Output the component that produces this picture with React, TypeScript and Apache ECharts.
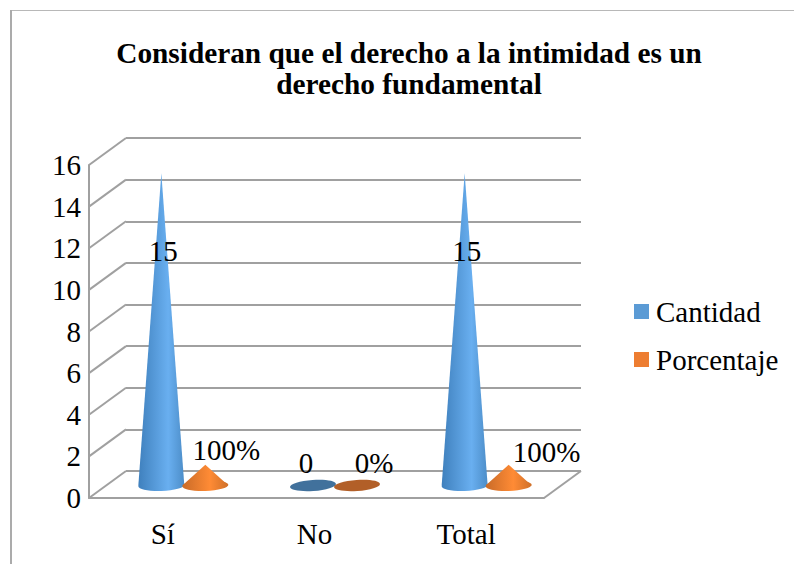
import React, { useEffect, useRef } from "react";
import * as echarts from "echarts";

const categories = ["Sí", "No", "Total"];
const cantidad = [15, 0, 15];
const porcentaje = [1, 0, 1];
const wallTicks = [0, 2, 4, 6, 8, 10, 12, 14, 16];
const titleText = "Consideran que el derecho a la intimidad es un\nderecho fundamental";

const FONT = "'Liberation Serif', 'Times New Roman', serif";
const DEPTH_X = 37;
const DEPTH_Y = 27;
const SIDE = 22;
const RX = 23;
const RY = 5.5;

const blueGrad = () =>
  new echarts.graphic.LinearGradient(0, 0, 1, 0, [
    { offset: 0, color: "#3F80BD" },
    { offset: 0.65, color: "#69AFF0" },
    { offset: 1, color: "#4C8DC8" },
  ]);
const orangeGrad = () =>
  new echarts.graphic.LinearGradient(0, 0, 1, 0, [
    { offset: 0, color: "#C96B28" },
    { offset: 0.6, color: "#FF8B35" },
    { offset: 1, color: "#CF7029" },
  ]);

function makeCone(side: number, grad: () => any, flat: string, labelFor: (v: number, i: number) => [string, number, number]) {
  return (params: any, api: any) => {
    const idx = api.value(0);
    const v = api.value(1);
    const p = api.coord([idx, v]);
    const b = api.coord([idx, 0]);
    const cx = b[0] + DEPTH_X / 2 + side;
    const by = b[1] - DEPTH_Y / 2 + 1;
    const topY = p[1] - DEPTH_Y / 2 + 1;
    const children: any[] = [];
    if (v > 0) {
      children.push({
        type: "ellipse",
        shape: { cx: 0, cy: 0, rx: RX, ry: RY },
        x: cx,
        y: by,
        rotation: 0.03,
        style: { fill: grad() },
      });
      children.push({
        type: "polygon",
        shape: { points: [[cx - RX, by], [cx, topY], [cx + RX, by]] },
        style: { fill: grad() },
      });
    } else {
      children.push({
        type: "ellipse",
        shape: { cx: 0, cy: 0, rx: RX, ry: RY },
        x: cx,
        y: by,
        rotation: 0.07,
        style: { fill: flat },
      });
    }
    const [text, dx, dy] = labelFor(v, idx);
    children.push({
      type: "text",
      x: cx + dx,
      y: v > 1 ? by + (topY - by) * 0.75 : (v > 0 ? topY + dy : by + dy),
      style: { text, fill: "#000", font: `29px ${FONT}`, align: "center", verticalAlign: "middle" },
    });
    return { type: "group", children };
  };
}

const wall = (params: any, api: any) => {
  const v = api.value(1);
  const y = api.coord([0, v])[1];
  const cs = params.coordSys;
  const seg = (x: number) => ({
    type: "line",
    shape: { x1: x, y1: y, x2: x + DEPTH_X, y2: y - DEPTH_Y },
    style: { stroke: "#A0A0A0", lineWidth: 2 },
  });
  const children = [seg(cs.x)];
  if (v === 0) children.push(seg(cs.x + cs.width));
  return { type: "group", children };
};

export default function App() {
  const ref = useRef<HTMLDivElement>(null);
  useEffect(() => {
    const chart = echarts.init(ref.current!, undefined, { renderer: "svg" });
    const gridLine = { show: true, lineStyle: { color: "#A0A0A0", width: 2 } };
    chart.setOption({
      animation: false,
      backgroundColor: "#fff",
      title: {
        text: titleText,
        left: 404,
        top: 32,
        textAlign: "center",
        textStyle: { fontFamily: FONT, fontWeight: "bold", fontSize: 29.3, lineHeight: 31, color: "#000" },
      },
      legend: {
        data: ["Cantidad", "Porcentaje"],
        orient: "vertical",
        left: 629,
        top: 292,
        itemWidth: 15,
        itemHeight: 15,
        itemGap: 19,
        icon: "rect",
        textStyle: { fontFamily: FONT, fontSize: 29, color: "#000", padding: [0, 0, 0, 2] },
      },
      graphic: [
        { type: "line", shape: { x1: 10, y1: 10.5, x2: 794, y2: 10.5 }, style: { stroke: "#B8B8B8", lineWidth: 1 } },
        { type: "line", shape: { x1: 11, y1: 10, x2: 11, y2: 564 }, style: { stroke: "#ABABAB", lineWidth: 2 } },
      ],
      grid: [
        { left: 89, width: 455, top: 165, height: 333 },
        { left: 126, width: 455, top: 138, height: 333 },
      ],
      xAxis: [
        {
          type: "category",
          gridIndex: 0,
          data: categories,
          axisTick: { show: false },
          axisLine: gridLine,
          axisLabel: { fontFamily: FONT, fontSize: 29, color: "#000", margin: 21, padding: [0, 4, 0, 0] },
        },
        { type: "category", gridIndex: 1, data: categories, show: false },
      ],
      yAxis: [
        {
          type: "value",
          gridIndex: 0,
          min: 0,
          max: 16,
          interval: 2,
          axisLine: gridLine,
          axisTick: { show: false },
          splitLine: { show: false },
          axisLabel: { fontFamily: FONT, fontSize: 29, color: "#000", margin: 8 },
        },
        {
          type: "value",
          gridIndex: 1,
          min: 0,
          max: 16,
          interval: 2,
          axisLine: { show: false },
          axisTick: { show: false },
          axisLabel: { show: false },
          splitLine: gridLine,
        },
      ],
      series: [
        {
          type: "custom",
          name: "wall",
          xAxisIndex: 0,
          yAxisIndex: 0,
          silent: true,
          clip: false,
          renderItem: wall,
          data: wallTicks.map((t) => [0, t]),
        },
        {
          type: "custom",
          name: "Cantidad",
          xAxisIndex: 0,
          yAxisIndex: 0,
          clip: false,
          itemStyle: { color: "#5B9BD5" },
          renderItem: makeCone(-SIDE, blueGrad, "#41719C", (v) => [String(v), v > 0 ? 2 : -7, -23]),
          data: cantidad.map((v, i) => [i, v]),
        },
        {
          type: "custom",
          name: "Porcentaje",
          xAxisIndex: 0,
          yAxisIndex: 0,
          clip: false,
          itemStyle: { color: "#ED7D31" },
          renderItem: makeCone(SIDE, orangeGrad, "#B25F28", (v, i) => [
            `${v * 100}%`,
            v > 0 ? (i === 0 ? 21 : 38) : 17,
            v > 0 ? (i === 0 ? -15 : -13) : -23,
          ]),
          data: porcentaje.map((v, i) => [i, v]),
        },
      ],
    });
    return () => chart.dispose();
  }, []);
  return <div ref={ref} style={{ position: "absolute", left: 0, top: 0, width: 794, height: 564 }} />;
}
